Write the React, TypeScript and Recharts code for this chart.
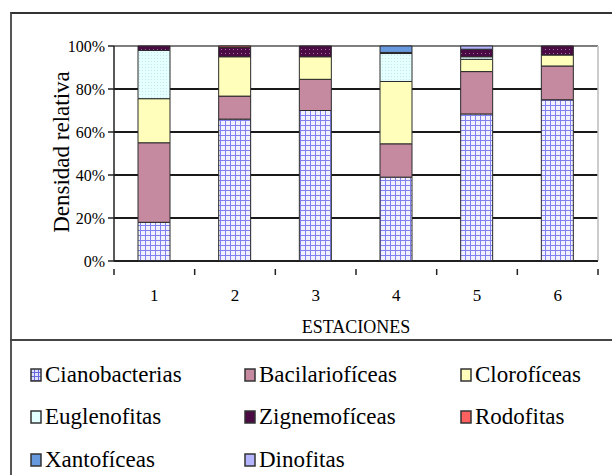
import React from 'react';
import { BarChart, Bar, XAxis, YAxis, CartesianGrid } from 'recharts';

const estaciones = ['1', '2', '3', '4', '5', '6'];

const cianobacterias = [18, 66, 70, 39, 68.4, 75];
const bacilarioficeas = [37, 10.7, 14.5, 15.5, 19.7, 15.7];
const cloroficeas = [20.5, 18.3, 10.5, 29, 5.7, 5.1];
const euglenofitas = [22.5, 0, 0, 13, 1.2, 0];
const zignemoficeas = [2, 4.4, 5, 0.5, 3.5, 4.2];
const rodofitas = [0, 0.6, 0, 0, 0, 0];
const xantoficeas = [0, 0, 0, 3, 0, 0];
const dinofitas = [0, 0, 0, 0, 1.5, 0];

const yTicks = [0, 0.2, 0.4, 0.6, 0.8, 1];

const series = [
  { key: 'Cianobacterias', values: cianobacterias, fill: 'url(#pCiano)', swatch: 'url(#pCianoS)' },
  { key: 'Bacilariofíceas', values: bacilarioficeas, fill: '#c68aa0', swatch: '#c68aa0' },
  { key: 'Clorofíceas', values: cloroficeas, fill: '#ffffbb', swatch: '#ffffbb' },
  { key: 'Euglenofitas', values: euglenofitas, fill: 'url(#pEugleno)', swatch: '#e4ffff' },
  { key: 'Zignemofíceas', values: zignemoficeas, fill: 'url(#pZigne)', swatch: '#4a0a44' },
  { key: 'Rodofitas', values: rodofitas, fill: '#ff6060', swatch: '#ff6060' },
  { key: 'Xantofíceas', values: xantoficeas, fill: '#6699dd', swatch: '#6699dd' },
  { key: 'Dinofitas', values: dinofitas, fill: '#b4b4ff', swatch: '#b4b4ff' },
];

const data = estaciones.map((e, i) => {
  const row: Record<string, any> = { name: e };
  series.forEach(s => { row[s.key] = s.values[i]; });
  return row;
});

const FONT = '"Liberation Serif", "DejaVu Serif", serif';

const Patterns = () => (
  <defs>
    <pattern id="pCiano" width="5" height="5" patternUnits="userSpaceOnUse">
      <rect width="5" height="5" fill="#f0f0ff" />
      <path d="M0 0.5 H5 M0.5 0 V5" stroke="#8080ee" strokeWidth="1" />
    </pattern>
    <pattern id="pEugleno" width="3" height="3" patternUnits="userSpaceOnUse">
      <rect width="3" height="3" fill="#e6ffff" />
      <rect x="1" y="1" width="1" height="1" fill="#c2e8ef" />
    </pattern>
    <pattern id="pZigne" width="4" height="4" patternUnits="userSpaceOnUse">
      <rect width="4" height="4" fill="#4a0a44" />
      <rect x="1" y="1" width="1" height="1" fill="#a070a0" />
    </pattern>
  </defs>
);

const XTick = (props: any) => {
  const { x, y, payload, index } = props;
  const half = 80.67 / 2;
  return (
    <g>
      <line x1={x - half} y1={y} x2={x - half} y2={y + 6} stroke="#222" strokeWidth={1.5} />
      {index === estaciones.length - 1 && (
        <line x1={x + half} y1={y} x2={x + half} y2={y + 6} stroke="#222" strokeWidth={1.5} />
      )}
      <text x={x} y={y + 32} textAnchor="middle" fontSize={17} fontFamily={FONT} fill="#000">
        {payload.value}
      </text>
    </g>
  );
};

const Swatch = ({ fill }: { fill: string }) => (
  <svg width={12} height={14} style={{ marginRight: 3, flexShrink: 0 }}>
    <defs>
      <pattern id="pCianoS" width="4" height="4" patternUnits="userSpaceOnUse">
        <rect width="4" height="4" fill="#e0e0ff" />
        <path d="M0 0.5 H4 M0.5 0 V4" stroke="#6a6ae0" strokeWidth="1" />
      </pattern>
    </defs>
    <rect x={1} y={1} width={10} height={12} fill={fill} stroke="#333" strokeWidth={1.5} />
  </svg>
);

const legendCols = [30, 244, 460];
const legendRows = [375, 417, 460];

export default function App() {
  return (
    <div style={{ position: 'absolute', left: 0, top: 0, width: 612, height: 475, background: '#fff', overflow: 'hidden', fontFamily: FONT }}>
      {/* frame */}
      <div style={{ position: 'absolute', left: 10, top: 12, width: 610, height: 470, borderTop: '2px solid #333', borderLeft: '2px solid #555' }} />
      <div style={{ position: 'absolute', left: 10, top: 339, width: 610, height: 0, borderTop: '2px solid #444' }} />

      <div style={{ position: 'absolute', left: 0, top: 0 }}>
        <BarChart
          width={612}
          height={340}
          data={data}
          stackOffset="expand"
          margin={{ top: 46, right: 14, left: 0, bottom: 29 }}
          barSize={32}
        >
          <Patterns />
          <CartesianGrid horizontal vertical={false} stroke="#1a1a1a" strokeWidth={1.8} />
          <XAxis
            dataKey="name"
            height={50}
            axisLine={{ stroke: '#222', strokeWidth: 1.5 }}
            tickLine={false}
            tick={<XTick />}
            interval={0}
          />
          <YAxis
            width={114}
            domain={[0, 1]}
            ticks={yTicks}
            tickFormatter={(v: number) => `${Math.round(v * 100)}%`}
            axisLine={{ stroke: '#222', strokeWidth: 1.5 }}
            tickLine={{ stroke: '#222', strokeWidth: 1.5 }}
            tickSize={6}
            tickMargin={3}
            tick={{ fontSize: 16, fontFamily: FONT, fill: '#000' }}
          />
          {series.map(s => (
            <Bar
              key={s.key}
              dataKey={s.key}
              stackId="a"
              fill={s.fill}
              stroke="#2a2a2a"
              strokeWidth={1}
              isAnimationActive={false}
            />
          ))}
          <line x1={598} y1={46} x2={598} y2={261} stroke="#bbb" strokeWidth={1.5} />
          <line x1={114} y1={46} x2={598} y2={46} stroke="#e2e2e2" strokeWidth={1} />
        </BarChart>
      </div>

      <div style={{ position: 'absolute', left: 62, top: 152, transform: 'translate(-50%, -50%) rotate(-90deg)', fontSize: 23, whiteSpace: 'nowrap', color: '#000' }}>
        Densidad relativa
      </div>
      <div style={{ position: 'absolute', left: 356, top: 327, transform: 'translate(-50%, -50%)', fontSize: 18, whiteSpace: 'nowrap', color: '#000' }}>
        ESTACIONES
      </div>

      {series.map((s, i) => (
        <div
          key={s.key}
          style={{
            position: 'absolute',
            left: legendCols[i % 3],
            top: legendRows[Math.floor(i / 3)],
            transform: 'translateY(-50%)',
            display: 'flex',
            alignItems: 'center',
            fontSize: 23,
            whiteSpace: 'nowrap',
            color: '#000',
          }}
        >
          <Swatch fill={s.swatch} />
          <span>{s.key}</span>
        </div>
      ))}
    </div>
  );
}
